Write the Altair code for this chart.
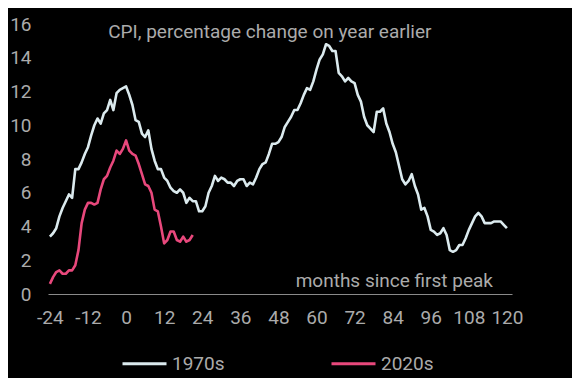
import altair as alt
import pandas as pd

# US CPI, % change on a year earlier, months relative to first peak
months_1970s = list(range(-24, 121))
cpi_1970s = [
    3.4,                                                     # Dec 1972 (-24)
    3.6, 3.9, 4.6, 5.1, 5.5, 5.9, 5.7, 7.4, 7.4, 7.8, 8.3, 8.7,   # 1973
    9.4, 10.0, 10.4, 10.1, 10.7, 10.9, 11.5, 10.9, 11.9, 12.1, 12.2, 12.3,  # 1974
    11.8, 11.2, 10.3, 10.2, 9.5, 9.3, 9.7, 8.6, 7.9, 7.4, 7.4, 6.9,  # 1975
    6.7, 6.3, 6.1, 6.0, 6.2, 6.0, 5.4, 5.7, 5.5, 5.5, 4.9, 4.9,   # 1976
    5.2, 6.0, 6.4, 7.0, 6.7, 6.9, 6.8, 6.6, 6.6, 6.4, 6.7, 6.8,   # 1977
    6.8, 6.4, 6.6, 6.5, 6.9, 7.4, 7.7, 7.8, 8.3, 8.9, 8.9, 9.0,   # 1978
    9.3, 9.9, 10.2, 10.5, 10.9, 10.9, 11.3, 11.8, 12.2, 12.1, 12.6, 13.3,  # 1979
    13.9, 14.2, 14.8, 14.7, 14.4, 14.4, 13.1, 12.9, 12.6, 12.8, 12.6, 12.5,  # 1980
    11.8, 11.4, 10.5, 10.0, 9.8, 9.6, 10.8, 10.8, 11.0, 10.1, 9.6, 8.9,  # 1981
    8.4, 7.6, 6.8, 6.5, 6.7, 7.1, 6.4, 5.9, 5.0, 5.1, 4.6, 3.8,   # 1982
    3.7, 3.5, 3.6, 3.9, 3.5, 2.6, 2.5, 2.6, 2.9, 2.9, 3.3, 3.8,   # 1983
    4.2, 4.6, 4.8, 4.6, 4.2, 4.2, 4.2, 4.3, 4.3, 4.3, 4.1, 3.9,   # 1984
]

months_2020s = list(range(-24, 22))
cpi_2020s = [
    0.6, 1.0, 1.3, 1.4, 1.2, 1.2, 1.4,                        # Jun-Dec 2020
    1.4, 1.7, 2.6, 4.2, 5.0, 5.4, 5.4, 5.3, 5.4, 6.2, 6.8, 7.0,   # 2021
    7.5, 7.9, 8.5, 8.3, 8.6, 9.1, 8.5, 8.3, 8.2, 7.7, 7.1, 6.5,   # 2022
    6.4, 6.0, 5.0, 4.9, 4.0, 3.0, 3.2, 3.7, 3.7, 3.2, 3.1, 3.4,   # 2023
    3.1, 3.2, 3.5,                                            # Jan-Mar 2024
]

series_names = ["1970s", "2020s"]
series_colors = ["#dbeaee", "#e8487c"]
x_ticks = list(range(-24, 121, 12))
y_ticks = list(range(0, 17, 2))
title_text = "CPI, percentage change on year earlier"
xlabel_text = "months since first peak"

df = pd.concat([
    pd.DataFrame({"month": months_1970s, "cpi": cpi_1970s, "series": series_names[0]}),
    pd.DataFrame({"month": months_2020s, "cpi": cpi_2020s, "series": series_names[1]}),
])

FONT = "Roboto"
GREY = "#ababab"
FS = 19

x_scale = alt.Scale(domain=[-24.6, 121.6], nice=False, zero=False)
y_scale = alt.Scale(domain=[0, 16], nice=False)

lines = alt.Chart(df).mark_line(strokeWidth=2.6, strokeJoin="round").encode(
    x=alt.X("month:Q", scale=x_scale, title=None,
            axis=alt.Axis(values=x_ticks, tickCount=len(x_ticks) + 2)),
    y=alt.Y("cpi:Q", scale=y_scale, title=None,
            axis=alt.Axis(values=y_ticks, tickCount=len(y_ticks) + 2)),
    color=alt.Color("series:N",
                    scale=alt.Scale(domain=series_names, range=series_colors),
                    legend=alt.Legend(title=None, orient="none", direction="horizontal",
                                      legendX=73, legendY=316,
                                      symbolType="stroke", symbolSize=1936,
                                      symbolStrokeWidth=3, labelFont=FONT,
                                      labelFontSize=FS, labelColor=GREY,
                                      labelOffset=4, columnPadding=100)),
)

title_mark = alt.Chart(pd.DataFrame({"t": [title_text]})).mark_text(
    font=FONT, fontSize=FS, color=GREY, align="center", baseline="middle"
).encode(x=alt.datum(45.3), y=alt.datum(15.5), text="t:N")

xlabel_mark = alt.Chart(pd.DataFrame({"t": [xlabel_text]})).mark_text(
    font=FONT, fontSize=FS, color=GREY, align="right", baseline="middle"
).encode(x=alt.datum(115.6), y=alt.datum(0.8), text="t:N")

chart = alt.layer(lines, title_mark, xlabel_mark).properties(
    width=464, height=270,
    background="#000000",
    padding={"left": 40, "top": 16, "right": 60, "bottom": 84},
    autosize=alt.AutoSizeParams(type="none"),
).configure_view(stroke=None).configure_axis(
    grid=False, ticks=False, title=None, labelColor=GREY, labelFont=FONT,
    labelFontSize=FS, labelFlush=False, labelOverlap=False,
    labelExpr="'' + datum.value",
).configure_axisX(
    domain=True, domainColor="#8a8a8a", domainWidth=1, labelPadding=14,
).configure_axisY(
    domain=False, labelPadding=17,
)

chart.save("out.html", embed_options={"renderer": "svg", "actions": False})
